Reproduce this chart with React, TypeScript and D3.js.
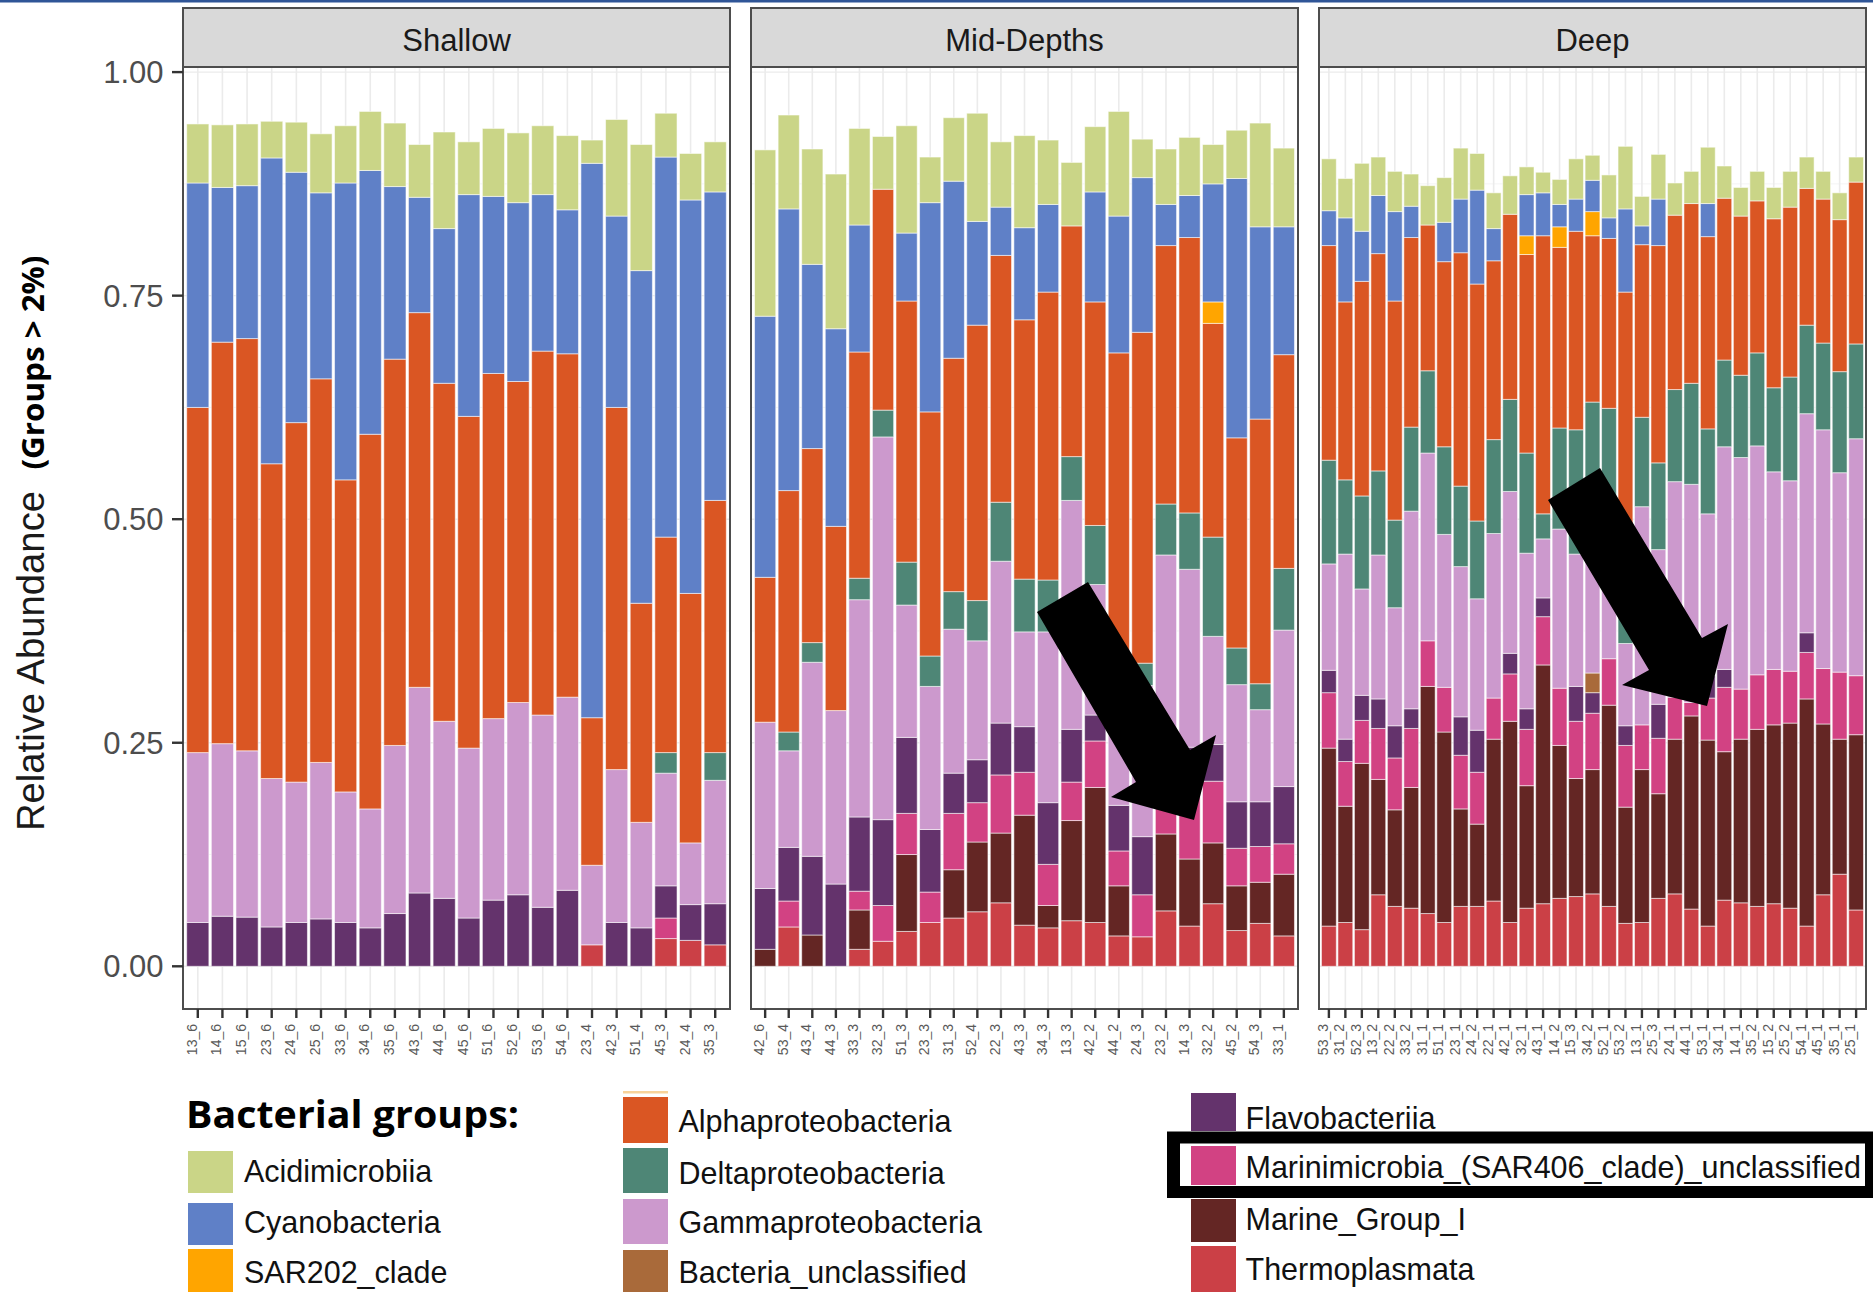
import React from "react";
import * as d3 from "d3";

// ---- Sample labels per depth layer ----
const shallowSamples = ["13_6", "14_6", "15_6", "23_6", "24_6", "25_6", "33_6", "34_6", "35_6", "43_6", "44_6", "45_6", "51_6", "52_6", "53_6", "54_6", "23_4", "42_3", "51_4", "45_3", "24_4", "35_3"];
const midSamples = ["42_6", "53_4", "43_4", "44_3", "33_3", "32_3", "51_3", "23_3", "31_3", "52_4", "22_3", "43_3", "34_3", "13_3", "42_2", "44_2", "24_3", "23_2", "14_3", "32_2", "45_2", "54_3", "33_1"];
const deepSamples = ["53_3", "31_2", "52_3", "13_2", "22_2", "33_2", "31_1", "51_1", "23_1", "24_2", "22_1", "42_1", "32_1", "43_1", "14_2", "15_3", "34_2", "52_1", "53_2", "13_1", "25_3", "24_1", "44_1", "53_1", "34_1", "14_1", "35_2", "15_2", "25_2", "54_1", "45_1", "35_1", "25_1"];

const yTicks = [0, 0.25, 0.5, 0.75, 1];
const yTickLabels = ["0.00", "0.25", "0.50", "0.75", "1.00"];

// ---- Relative abundance per group (shallow 22, mid-depths 23, deep 33) ----
const acidimicrobiia = [
  0.066, 0.070, 0.069, 0.041, 0.056, 0.066, 0.064, 0.066, 0.071, 0.059, 0.108, 0.059, 0.076, 0.078, 0.077, 0.083, 0.026, 0.108, 0.141, 0.049, 0.052, 0.056,
  0.186, 0.105, 0.129, 0.173, 0.108, 0.059, 0.120, 0.051, 0.071, 0.121, 0.073, 0.103, 0.072, 0.071, 0.073, 0.117, 0.043, 0.062, 0.065, 0.044, 0.054, 0.116, 0.088,
  0.058, 0.044, 0.076, 0.043, 0.045, 0.036, 0.044, 0.050, 0.057, 0.041, 0.040, 0.043, 0.031, 0.023, 0.028, 0.045, 0.028, 0.048, 0.070, 0.033, 0.050, 0.036, 0.036, 0.063, 0.036, 0.032, 0.033, 0.035, 0.040, 0.035, 0.031, 0.030, 0.028,
];
const cyanobacteria = [
  0.251, 0.173, 0.171, 0.342, 0.280, 0.208, 0.332, 0.295, 0.193, 0.129, 0.173, 0.248, 0.198, 0.200, 0.175, 0.161, 0.620, 0.214, 0.372, 0.425, 0.440, 0.345,
  0.292, 0.315, 0.206, 0.221, 0.142, 0, 0.076, 0.234, 0.198, 0.116, 0.054, 0.103, 0.098, 0, 0.123, 0.153, 0.173, 0.046, 0.047, 0.132, 0.290, 0.215, 0.143,
  0.039, 0.094, 0.056, 0.065, 0.100, 0.035, 0, 0.044, 0.060, 0.105, 0.036, 0, 0.046, 0.048, 0.025, 0.036, 0.035, 0.023, 0.093, 0.021, 0.052, 0, 0, 0.037, 0, 0, 0, 0, 0, 0, 0, 0, 0,
];
const sar202 = [
  0, 0, 0, 0, 0, 0, 0, 0, 0, 0, 0, 0, 0, 0, 0, 0, 0, 0, 0, 0, 0, 0,
  0, 0, 0, 0, 0, 0, 0, 0, 0, 0, 0, 0, 0, 0, 0, 0, 0, 0, 0, 0.024, 0, 0, 0,
  0, 0, 0, 0, 0, 0, 0, 0, 0, 0, 0, 0, 0.021, 0, 0.023, 0, 0.027, 0, 0, 0, 0, 0, 0, 0, 0, 0, 0, 0, 0, 0, 0, 0, 0,
];
const alphaproteobacteria = [
  0.386, 0.449, 0.461, 0.352, 0.402, 0.429, 0.349, 0.419, 0.432, 0.419, 0.378, 0.371, 0.386, 0.359, 0.407, 0.384, 0.165, 0.405, 0.245, 0.241, 0.279, 0.282,
  0.162, 0.270, 0.217, 0.206, 0.253, 0.247, 0.292, 0.273, 0.261, 0.308, 0.276, 0.290, 0.322, 0.258, 0.250, 0.386, 0.370, 0.289, 0.308, 0.239, 0.235, 0.296, 0.239,
  0.240, 0.199, 0.240, 0.243, 0.245, 0.212, 0.163, 0.207, 0.261, 0.265, 0.200, 0.207, 0.222, 0.311, 0.202, 0.222, 0.186, 0.190, 0.304, 0.193, 0.243, 0.195, 0.201, 0.215, 0.181, 0.178, 0.170, 0.189, 0.190, 0.153, 0.161, 0.170, 0.181,
];
const deltaproteobacteria = [
  0, 0, 0, 0, 0, 0, 0, 0, 0, 0, 0, 0, 0, 0, 0, 0, 0, 0, 0, 0.023, 0, 0.031,
  0, 0.021, 0.022, 0, 0.024, 0.030, 0.048, 0.034, 0.042, 0.045, 0.066, 0.059, 0.058, 0.049, 0.066, 0, 0.025, 0.057, 0.063, 0.111, 0.041, 0.029, 0.069,
  0.116, 0.083, 0.104, 0.094, 0.098, 0.094, 0.092, 0.098, 0.090, 0.087, 0.105, 0.103, 0.112, 0.028, 0.113, 0.139, 0.130, 0.165, 0.089, 0.100, 0.097, 0.103, 0.113, 0.095, 0.097, 0.092, 0.104, 0.094, 0.116, 0.099, 0.097, 0.113, 0.106,
];
const gammaproteobacteria = [
  0.190, 0.193, 0.186, 0.166, 0.157, 0.175, 0.146, 0.133, 0.188, 0.230, 0.198, 0.190, 0.203, 0.215, 0.215, 0.216, 0.089, 0.171, 0.118, 0.126, 0.069, 0.138,
  0.186, 0.108, 0.217, 0.194, 0.243, 0.428, 0.148, 0.160, 0.161, 0.133, 0.181, 0.106, 0.191, 0.256, 0.146, 0.120, 0.169, 0.264, 0.199, 0.121, 0.131, 0.103, 0.175,
  0.119, 0.207, 0.119, 0.161, 0.132, 0.221, 0.210, 0.171, 0.168, 0.147, 0.184, 0.181, 0.174, 0.066, 0.178, 0.148, 0.173, 0.115, 0.092, 0.244, 0.173, 0.241, 0.244, 0.181, 0.249, 0.259, 0.256, 0.221, 0.213, 0.245, 0.267, 0.223, 0.265,
];
const bacteriaUnclassified = [
  0, 0, 0, 0, 0, 0, 0, 0, 0, 0, 0, 0, 0, 0, 0, 0, 0, 0, 0, 0, 0, 0,
  0, 0, 0, 0, 0, 0, 0, 0, 0, 0, 0, 0, 0, 0, 0, 0, 0, 0, 0, 0, 0, 0, 0,
  0, 0, 0, 0, 0, 0, 0, 0, 0, 0, 0, 0, 0, 0, 0, 0, 0.022, 0, 0, 0, 0, 0, 0, 0, 0, 0, 0, 0, 0, 0, 0, 0, 0,
];
const flavobacteriia = [
  0.049, 0.056, 0.055, 0.044, 0.049, 0.053, 0.049, 0.043, 0.059, 0.082, 0.076, 0.054, 0.074, 0.080, 0.066, 0.085, 0, 0.049, 0.043, 0.036, 0.040, 0.046,
  0.068, 0.060, 0.088, 0.092, 0.083, 0.096, 0.085, 0.070, 0.045, 0.048, 0.058, 0.051, 0.069, 0.059, 0.029, 0.051, 0.065, 0, 0.030, 0.041, 0.052, 0.050, 0.064,
  0.025, 0.025, 0.028, 0.033, 0.036, 0.022, 0, 0, 0.043, 0.047, 0, 0.023, 0.023, 0.021, 0, 0.039, 0.023, 0, 0.022, 0, 0.038, 0, 0, 0.025, 0.020, 0, 0, 0, 0, 0.022, 0, 0, 0,
];
const marinimicrobia = [
  0, 0, 0, 0, 0, 0, 0, 0, 0, 0, 0, 0, 0, 0, 0, 0, 0, 0, 0, 0.023, 0, 0,
  0, 0.029, 0, 0, 0.021, 0.040, 0.046, 0.034, 0.063, 0.044, 0.065, 0.048, 0.046, 0.043, 0.052, 0.039, 0.047, 0.048, 0.095, 0.069, 0.042, 0.040, 0.034,
  0.062, 0.050, 0.048, 0.057, 0.058, 0.066, 0.051, 0.050, 0.060, 0.058, 0.046, 0.053, 0.063, 0.054, 0.064, 0.064, 0.063, 0.052, 0.069, 0.050, 0.062, 0.047, 0.015, 0.047, 0.072, 0.056, 0.061, 0.062, 0.058, 0.052, 0.062, 0.075, 0.066,
];
const marineGroupI = [
  0, 0, 0, 0, 0, 0, 0, 0, 0, 0, 0, 0, 0, 0, 0, 0, 0, 0, 0, 0, 0, 0,
  0.019, 0, 0.035, 0, 0.044, 0, 0.086, 0, 0.054, 0.078, 0.078, 0.123, 0.025, 0.112, 0.151, 0.056, 0, 0.086, 0.075, 0.068, 0.050, 0.046, 0.069,
  0.199, 0.130, 0.186, 0.129, 0.108, 0.135, 0.254, 0.213, 0.109, 0.092, 0.181, 0.225, 0.137, 0.267, 0.171, 0.132, 0.139, 0.225, 0.130, 0.171, 0.117, 0.173, 0.216, 0.208, 0.166, 0.183, 0.198, 0.200, 0.207, 0.254, 0.191, 0.151, 0.196,
];
const thermoplasmata = [
  0, 0, 0, 0, 0, 0, 0, 0, 0, 0, 0, 0, 0, 0, 0, 0, 0.024, 0, 0, 0.031, 0.029, 0.024,
  0, 0.044, 0, 0, 0.019, 0.028, 0.039, 0.049, 0.054, 0.061, 0.071, 0.046, 0.043, 0.051, 0.049, 0.034, 0.033, 0.062, 0.045, 0.070, 0.040, 0.048, 0.034,
  0.045, 0.049, 0.041, 0.080, 0.067, 0.065, 0.059, 0.049, 0.067, 0.067, 0.073, 0.049, 0.065, 0.070, 0.076, 0.078, 0.081, 0.067, 0.048, 0.049, 0.076, 0.081, 0.064, 0.045, 0.074, 0.071, 0.067, 0.070, 0.065, 0.045, 0.080, 0.103, 0.063,
];

// Legend order (top of the stack first)
const groupNames = [
  "Acidimicrobiia", "Cyanobacteria", "SAR202_clade", "Alphaproteobacteria", "Deltaproteobacteria",
  "Gammaproteobacteria", "Bacteria_unclassified", "Flavobacteriia",
  "Marinimicrobia_(SAR406_clade)_unclassified", "Marine_Group_I", "Thermoplasmata",
];
const groupValues = [
  acidimicrobiia, cyanobacteria, sar202, alphaproteobacteria, deltaproteobacteria,
  gammaproteobacteria, bacteriaUnclassified, flavobacteriia, marinimicrobia, marineGroupI, thermoplasmata,
];
const groupColors = [
  "#cad587", "#5f80c7", "#ffa500", "#da5623", "#4e8676",
  "#cc99cd", "#a96a3a", "#64336c", "#d24283", "#642624", "#cb4046",
];

const panelNames = ["Shallow", "Mid-Depths", "Deep"];
const panelSamples = [shallowSamples, midSamples, deepSamples];

const W = 1873;
const H = 1292;
const FONT = "'Liberation Sans', Arial, Helvetica, sans-serif";

const PANEL_TOP = 67;
const PANEL_BOTTOM = 1009;
const STRIP_TOP = 8;
const panelX: [number, number][] = [[183, 730], [751, 1298], [1319, 1866]];

const y = d3.scaleLinear().domain([0, 1]).range([966.3, 72.1]);
const colorOf = d3.scaleOrdinal<string, string>().domain(groupNames).range(groupColors);
const stackKeys = [...groupNames].reverse();

// Annotation arrows
const arrowShapes: [number, number][][] = [
  [[1037, 612], [1088, 582], [1190, 750], [1216, 735], [1194, 820], [1111, 797], [1136, 782]],
  [[1548, 500], [1600, 468], [1702, 638], [1728, 624], [1707, 706], [1622, 685], [1649, 670]],
];

type Row = { sample: string; [k: string]: number | string };

function Panel({ index }: { index: number }) {
  const samples = panelSamples[index];
  const offset = panelSamples.slice(0, index).reduce((a, s) => a + s.length, 0);
  const [x0, x1] = panelX[index];
  const xs = d3.scaleBand<string>().domain(samples).range([x0, x1]).paddingInner(0.1).paddingOuter(0.15);
  const rows: Row[] = samples.map((s, i) => {
    const r: Row = { sample: s };
    groupNames.forEach((g, gi) => (r[g] = groupValues[gi][offset + i]));
    return r;
  });
  const series = d3.stack<Row>().keys(stackKeys).value((d, k) => d[k] as number)(rows);
  const bw = xs.bandwidth();
  const minor = [0.125, 0.375, 0.625, 0.875];

  return (
    <g>
      <rect x={x0} y={PANEL_TOP} width={x1 - x0} height={PANEL_BOTTOM - PANEL_TOP} fill="#fff" />
      {minor.map((v) => (
        <line key={"mn" + v} x1={x0} x2={x1} y1={y(v)} y2={y(v)} stroke="#f0f0f0" strokeWidth={0.8} />
      ))}
      {yTicks.map((v) => (
        <line key={"mj" + v} x1={x0} x2={x1} y1={y(v)} y2={y(v)} stroke="#ebebeb" strokeWidth={1.4} />
      ))}
      {samples.map((s) => (
        <line key={"vg" + s} x1={xs(s)! + bw / 2} x2={xs(s)! + bw / 2} y1={PANEL_TOP} y2={PANEL_BOTTOM} stroke="#ebebeb" strokeWidth={1.6} />
      ))}
      {series.map((ser) => (
        <g key={ser.key} fill={colorOf(ser.key)}>
          {ser.map((d) => {
            const top = y(d[1]);
            const h = y(d[0]) - top;
            if (h <= 0.01) return null;
            return (
              <rect key={d.data.sample} x={xs(d.data.sample)} y={top} width={bw} height={h}
                stroke="#ffffff" strokeOpacity={0.55} strokeWidth={1} />
            );
          })}
        </g>
      ))}
      <rect x={x0} y={PANEL_TOP} width={x1 - x0} height={PANEL_BOTTOM - PANEL_TOP} fill="none" stroke="#4d4d4d" strokeWidth={2} />
      {/* facet strip */}
      <rect x={x0} y={STRIP_TOP} width={x1 - x0} height={PANEL_TOP - STRIP_TOP} fill="#d9d9d9" stroke="#4d4d4d" strokeWidth={2} />
      <text x={(x0 + x1) / 2} y={51} textAnchor="middle" fontFamily={FONT} fontSize={31} fill="#1a1a1a">
        {panelNames[index]}
      </text>
      {/* x axis */}
      {samples.map((s) => {
        const cx = xs(s)! + bw / 2;
        return (
          <g key={"xt" + s}>
            <line x1={cx} x2={cx} y1={PANEL_BOTTOM} y2={PANEL_BOTTOM + 9} stroke="#333" strokeWidth={2.4} />
            <text transform={`translate(${cx - 1},1024) rotate(-90)`} textAnchor="end" fontFamily={FONT} fontSize={14} fill="#5a5a5a">
              {s}
            </text>
          </g>
        );
      })}
    </g>
  );
}

type LegendItem = { name: string; top: number; bottom: number; cy: number };
function LegendColumn({ keyX, textX, items }: { keyX: number; textX: number; items: LegendItem[] }) {
  return (
    <g>
      {items.map((it) => (
        <g key={it.name}>
          <rect x={keyX} y={it.top} width={45} height={it.bottom - it.top} fill={colorOf(it.name)} />
          <text x={textX} y={it.cy + 10.5} fontFamily={FONT} fontSize={30.5} fill="#111">
            {it.name}
          </text>
        </g>
      ))}
    </g>
  );
}

export default function App() {
  const yAxisX = panelX[0][0];
  return (
    <svg width={W} height={H} viewBox={`0 0 ${W} ${H}`} style={{ position: "absolute", left: 0, top: 0, display: "block" }}>
      <rect width={W} height={H} fill="#ffffff" />
      <rect x={0} y={0} width={W} height={2.5} fill="#2f5597" />

      {panelNames.map((_, i) => (
        <Panel key={i} index={i} />
      ))}

      {/* y axis */}
      {yTicks.map((v, i) => (
        <g key={"yt" + v}>
          <line x1={yAxisX - 11} x2={yAxisX} y1={y(v)} y2={y(v)} stroke="#333" strokeWidth={2.4} />
          <text x={yAxisX - 19.5} y={y(v) + 11} textAnchor="end" fontFamily={FONT} fontSize={31} fill="#4d4d4d">
            {yTickLabels[i]}
          </text>
        </g>
      ))}
      <text transform="translate(43.5,831) rotate(-90)" textAnchor="start" fontFamily={FONT} fontSize={38} fill="#1a1a1a"
        textLength={340} lengthAdjust="spacingAndGlyphs">
        Relative Abundance
      </text>
      <text transform="translate(43.5,469.5) rotate(-90)" textAnchor="start" fontFamily="'Open Sans', sans-serif" fontWeight={700}
        fontSize={30} fill="#000" textLength={214} lengthAdjust="spacingAndGlyphs">
        (Groups &gt; 2%)
      </text>

      {/* annotation arrows */}
      {arrowShapes.map((pts, i) => (
        <polygon key={"ar" + i} points={pts.map((p) => p.join(",")).join(" ")} fill="#000" />
      ))}

      {/* legend */}
      <text x={186} y={1128} fontFamily="'Open Sans', sans-serif" fontWeight={700} fontSize={38} fill="#000"
        textLength={333} lengthAdjust="spacingAndGlyphs">
        Bacterial groups:
      </text>
      <rect x={623} y={1091} width={45} height={2.5} fill="#f8d39a" />
      <LegendColumn keyX={188} textX={244} items={[
        { name: groupNames[0], top: 1151, bottom: 1193, cy: 1171.5 },
        { name: groupNames[1], top: 1203, bottom: 1245, cy: 1222.5 },
        { name: groupNames[2], top: 1249, bottom: 1292, cy: 1272 },
      ]} />
      <LegendColumn keyX={623} textX={678.5} items={[
        { name: groupNames[3], top: 1097, bottom: 1143, cy: 1121.5 },
        { name: groupNames[4], top: 1148, bottom: 1193, cy: 1173 },
        { name: groupNames[5], top: 1199, bottom: 1244, cy: 1222.5 },
        { name: groupNames[6], top: 1250, bottom: 1292, cy: 1272 },
      ]} />
      <LegendColumn keyX={1191} textX={1245.5} items={[
        { name: groupNames[7], top: 1093, bottom: 1131, cy: 1118.5 },
        { name: groupNames[8], top: 1146, bottom: 1185, cy: 1167.5 },
        { name: groupNames[9], top: 1199, bottom: 1242, cy: 1219 },
        { name: groupNames[10], top: 1246, bottom: 1292, cy: 1269.5 },
      ]} />
      {/* highlight frame around the Marinimicrobia entry */}
      <path d="M1167,1131.5 H1873 V1198 H1167 Z M1180,1143.5 V1186 H1865 V1143.5 Z" fill="#000" fillRule="evenodd" />
    </svg>
  );
}
